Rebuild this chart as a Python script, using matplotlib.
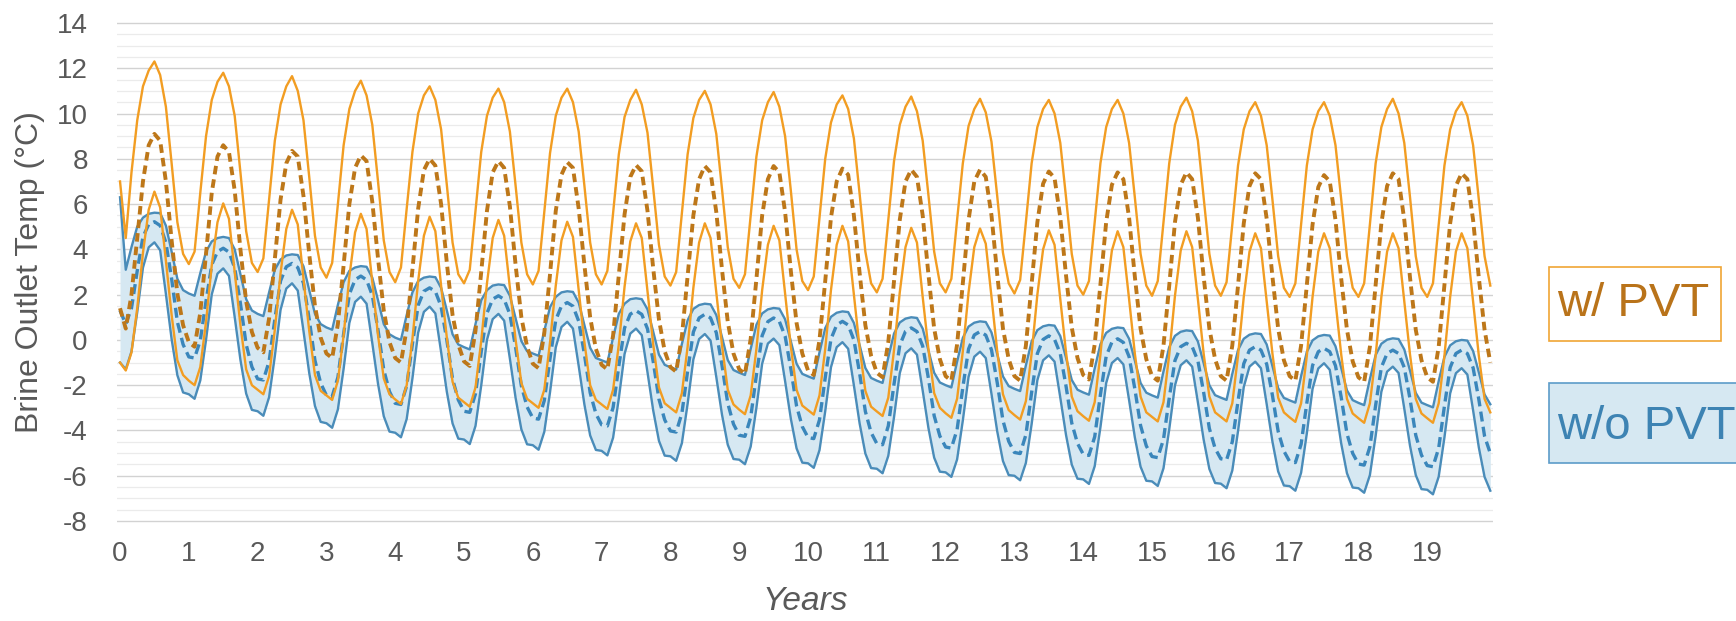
import numpy as np
import matplotlib
matplotlib.use("Agg")
import matplotlib.pyplot as plt
from matplotlib.ticker import MultipleLocator
from matplotlib.patches import Rectangle

plt.rcParams['font.family'] = ['Liberation Sans', 'DejaVu Sans']
plt.rcParams['axes.unicode_minus'] = False

# ---------------- data (monthly values, one row per year) ----------------
year_labels = [str(i) for i in range(20)]

w_pvt_upper = [
    [7.0, 4.5, 7.4, 9.7, 11.2, 11.9, 12.3, 11.7, 10.3, 7.8, 5.2, 3.8],
    [3.35, 3.9, 6.5, 9.0, 10.6, 11.4, 11.8, 11.2, 9.9, 7.4, 4.8, 3.4],
    [3.0, 3.6, 6.2, 8.8, 10.4, 11.2, 11.65, 11.0, 9.7, 7.2, 4.6, 3.2],
    [2.75, 3.4, 6.0, 8.6, 10.2, 11.0, 11.45, 10.8, 9.5, 7.0, 4.4, 3.0],
    [2.55, 3.2, 5.8, 8.3, 10.0, 10.8, 11.2, 10.6, 9.3, 6.85, 4.3, 2.9],
    [2.5, 3.1, 5.7, 8.3, 9.9, 10.7, 11.1, 10.5, 9.2, 6.8, 4.3, 2.9],
    [2.45, 3.05, 5.65, 8.25, 9.9, 10.7, 11.1, 10.5, 9.2, 6.8, 4.3, 2.9],
    [2.45, 3.05, 5.6, 8.2, 9.85, 10.6, 11.05, 10.4, 9.15, 6.7, 4.2, 2.8],
    [2.4, 3.0, 5.6, 8.2, 9.8, 10.6, 11.0, 10.4, 9.1, 6.65, 4.1, 2.7],
    [2.3, 2.9, 5.5, 8.1, 9.7, 10.5, 10.95, 10.3, 9.0, 6.6, 4.0, 2.6],
    [2.2, 2.8, 5.4, 8.0, 9.6, 10.4, 10.8, 10.2, 8.9, 6.45, 3.9, 2.5],
    [2.1, 2.7, 5.3, 7.9, 9.5, 10.3, 10.75, 10.1, 8.8, 6.4, 3.9, 2.5],
    [2.1, 2.7, 5.3, 7.8, 9.45, 10.2, 10.65, 10.05, 8.75, 6.35, 3.85, 2.5],
    [2.05, 2.65, 5.2, 7.8, 9.4, 10.2, 10.6, 10.0, 8.7, 6.3, 3.8, 2.4],
    [2.0, 2.6, 5.2, 7.8, 9.4, 10.2, 10.6, 10.0, 8.7, 6.3, 3.8, 2.4],
    [1.95, 2.6, 5.2, 7.8, 9.5, 10.3, 10.7, 10.1, 8.8, 6.3, 3.8, 2.4],
    [1.95, 2.55, 5.1, 7.7, 9.3, 10.1, 10.5, 9.9, 8.6, 6.2, 3.7, 2.3],
    [1.9, 2.5, 5.1, 7.7, 9.3, 10.1, 10.5, 9.9, 8.6, 6.2, 3.7, 2.3],
    [1.9, 2.5, 5.1, 7.8, 9.4, 10.2, 10.65, 10.0, 8.7, 6.3, 3.7, 2.3],
    [1.9, 2.5, 5.1, 7.7, 9.3, 10.1, 10.5, 9.9, 8.6, 6.2, 3.7, 2.4],
]

w_pvt_mean = [
    [1.4, 0.5, 2.0, 4.5, 7.0, 8.6, 9.1, 8.8, 7.0, 4.4, 2.05, 0.65],
    [-0.1, -0.3, 1.2, 3.8, 6.5, 8.1, 8.6, 8.3, 6.6, 4.0, 1.7, 0.35],
    [-0.35, -0.55, 0.95, 3.55, 6.2, 7.8, 8.35, 8.1, 6.35, 3.8, 1.5, 0.1],
    [-0.6, -0.8, 0.7, 3.3, 6.0, 7.6, 8.15, 7.9, 6.1, 3.6, 1.3, -0.1],
    [-0.8, -1.0, 0.5, 3.1, 5.8, 7.5, 8.0, 7.7, 6.0, 3.4, 1.1, -0.2],
    [-0.95, -1.15, 0.4, 3.0, 5.7, 7.4, 7.9, 7.6, 5.9, 3.3, 1.0, -0.3],
    [-1.05, -1.25, 0.3, 2.9, 5.7, 7.3, 7.85, 7.6, 5.8, 3.3, 1.0, -0.4],
    [-1.1, -1.3, 0.2, 2.85, 5.55, 7.2, 7.72, 7.45, 5.7, 3.15, 0.9, -0.5],
    [-1.2, -1.4, 0.15, 2.8, 5.5, 7.1, 7.68, 7.4, 5.65, 3.1, 0.8, -0.6],
    [-1.3, -1.5, 0.05, 2.7, 5.5, 7.1, 7.68, 7.4, 5.65, 3.05, 0.75, -0.6],
    [-1.35, -1.55, 0.0, 2.6, 5.4, 7.0, 7.57, 7.3, 5.5, 2.95, 0.65, -0.7],
    [-1.45, -1.65, -0.1, 2.6, 5.3, 7.0, 7.52, 7.2, 5.5, 2.9, 0.5, -0.85],
    [-1.6, -1.8, -0.2, 2.5, 5.3, 7.0, 7.52, 7.2, 5.5, 2.9, 0.5, -0.85],
    [-1.6, -1.8, -0.25, 2.45, 5.2, 6.9, 7.44, 7.15, 5.4, 2.85, 0.55, -0.8],
    [-1.55, -1.75, -0.2, 2.45, 5.2, 6.85, 7.4, 7.1, 5.4, 2.8, 0.5, -0.85],
    [-1.6, -1.8, -0.25, 2.4, 5.2, 6.85, 7.4, 7.1, 5.4, 2.8, 0.5, -0.85],
    [-1.6, -1.8, -0.25, 2.4, 5.15, 6.8, 7.36, 7.1, 5.35, 2.8, 0.5, -0.9],
    [-1.6, -1.8, -0.25, 2.4, 5.1, 6.75, 7.28, 7.0, 5.3, 2.7, 0.45, -0.95],
    [-1.65, -1.85, -0.3, 2.4, 5.15, 6.8, 7.36, 7.1, 5.3, 2.75, 0.45, -0.9],
    [-1.65, -1.85, -0.3, 2.4, 5.15, 6.8, 7.36, 7.1, 5.3, 2.75, 0.45, -1.0],
]

w_pvt_lower = [
    [-1.0, -1.35, -0.55, 1.4, 3.85, 5.75, 6.55, 5.85, 3.5, 1.1, -0.9, -1.55],
    [-1.8, -2.0, -1.2, 0.8, 3.3, 5.2, 6.03, 5.35, 3.0, 0.65, -1.3, -2.0],
    [-2.2, -2.4, -1.6, 0.45, 2.95, 4.9, 5.75, 5.1, 2.7, 0.4, -1.55, -2.25],
    [-2.45, -2.65, -1.8, 0.2, 2.8, 4.75, 5.57, 4.9, 2.55, 0.2, -1.7, -2.4],
    [-2.63, -2.83, -2.0, 0.05, 2.6, 4.6, 5.44, 4.8, 2.4, 0.1, -1.85, -2.55],
    [-2.75, -2.95, -2.1, -0.05, 2.5, 4.5, 5.3, 4.6, 2.3, 0.0, -1.9, -2.6],
    [-2.8, -3.0, -2.2, -0.1, 2.4, 4.4, 5.22, 4.55, 2.2, -0.1, -2.0, -2.65],
    [-2.85, -3.05, -2.2, -0.2, 2.35, 4.35, 5.15, 4.5, 2.15, -0.2, -2.1, -2.8],
    [-3.0, -3.2, -2.35, -0.3, 2.3, 4.3, 5.15, 4.5, 2.1, -0.25, -2.2, -2.85],
    [-3.08, -3.28, -2.45, -0.4, 2.2, 4.2, 5.04, 4.4, 2.05, -0.3, -2.2, -2.9],
    [-3.1, -3.3, -2.45, -0.4, 2.2, 4.2, 5.04, 4.35, 2.0, -0.35, -2.25, -2.95],
    [-3.16, -3.36, -2.55, -0.45, 2.1, 4.1, 4.95, 4.3, 1.9, -0.4, -2.35, -3.0],
    [-3.24, -3.44, -2.6, -0.5, 2.1, 4.1, 4.92, 4.25, 1.9, -0.5, -2.4, -3.1],
    [-3.32, -3.52, -2.7, -0.6, 2.0, 4.0, 4.84, 4.2, 1.8, -0.55, -2.5, -3.15],
    [-3.37, -3.57, -2.75, -0.65, 1.95, 3.95, 4.8, 4.1, 1.8, -0.6, -2.5, -3.2],
    [-3.4, -3.6, -2.75, -0.65, 1.95, 3.95, 4.8, 4.1, 1.8, -0.6, -2.5, -3.2],
    [-3.4, -3.6, -2.8, -0.7, 1.9, 3.9, 4.71, 4.05, 1.7, -0.6, -2.55, -3.2],
    [-3.42, -3.62, -2.8, -0.7, 1.9, 3.9, 4.71, 4.05, 1.7, -0.65, -2.6, -3.25],
    [-3.46, -3.66, -2.8, -0.7, 1.9, 3.9, 4.71, 4.05, 1.7, -0.65, -2.6, -3.25],
    [-3.46, -3.66, -2.8, -0.7, 1.9, 3.9, 4.71, 4.05, 1.7, -0.7, -2.6, -3.2],
]

wo_pvt_upper = [
    [6.3, 3.1, 4.1, 5.0, 5.4, 5.57, 5.62, 5.6, 5.05, 3.9, 2.7, 2.2],
    [2.05, 1.95, 2.95, 3.9, 4.35, 4.5, 4.55, 4.5, 4.0, 2.9, 1.8, 1.3],
    [1.15, 1.05, 2.1, 3.1, 3.55, 3.73, 3.78, 3.75, 3.25, 2.2, 1.15, 0.7],
    [0.55, 0.45, 1.55, 2.55, 3.05, 3.2, 3.26, 3.23, 2.75, 1.75, 0.7, 0.25],
    [0.1, 0.0, 1.1, 2.1, 2.6, 2.75, 2.8, 2.77, 2.3, 1.3, 0.25, -0.2],
    [-0.32, -0.42, 0.7, 1.75, 2.2, 2.4, 2.45, 2.42, 1.95, 0.95, -0.05, -0.5],
    [-0.6, -0.7, 0.4, 1.45, 1.9, 2.1, 2.15, 2.12, 1.65, 0.65, -0.35, -0.8],
    [-0.9, -1.0, 0.1, 1.15, 1.6, 1.8, 1.84, 1.8, 1.35, 0.36, -0.65, -1.1],
    [-1.21, -1.31, -0.18, 0.87, 1.37, 1.54, 1.6, 1.57, 1.1, 0.12, -0.89, -1.33],
    [-1.45, -1.55, -0.4, 0.67, 1.17, 1.35, 1.41, 1.38, 0.91, -0.06, -1.05, -1.5],
    [-1.61, -1.71, -0.55, 0.52, 1.02, 1.2, 1.26, 1.23, 0.75, -0.23, -1.24, -1.68],
    [-1.8, -1.9, -0.77, 0.28, 0.77, 0.94, 1.0, 0.97, 0.5, -0.46, -1.45, -1.88],
    [-2.0, -2.1, -0.96, 0.09, 0.59, 0.76, 0.82, 0.79, 0.33, -0.63, -1.61, -2.04],
    [-2.16, -2.26, -1.12, -0.07, 0.43, 0.6, 0.66, 0.63, 0.17, -0.79, -1.77, -2.2],
    [-2.32, -2.42, -1.26, -0.19, 0.31, 0.49, 0.55, 0.52, 0.05, -0.91, -1.9, -2.33],
    [-2.45, -2.55, -1.39, -0.32, 0.18, 0.36, 0.42, 0.39, -0.07, -1.02, -2.0, -2.44],
    [-2.55, -2.65, -1.5, -0.45, 0.05, 0.23, 0.29, 0.26, -0.2, -1.15, -2.13, -2.56],
    [-2.67, -2.77, -1.6, -0.53, -0.02, 0.16, 0.22, 0.19, -0.28, -1.24, -2.23, -2.66],
    [-2.78, -2.88, -1.73, -0.67, -0.17, 0.01, 0.07, 0.04, -0.42, -1.36, -2.34, -2.77],
    [-2.88, -2.98, -1.82, -0.75, -0.24, -0.06, 0.0, -0.03, -0.49, -1.43, -2.41, -2.84],
]

wo_pvt_mean = [
    [1.3, 0.7, 1.4, 3.05, 4.55, 5.1, 5.22, 5.05, 4.3, 2.7, 0.8, -0.2],
    [-0.75, -0.8, -0.02, 1.72, 3.32, 3.9, 4.05, 3.88, 3.18, 1.61, -0.2, -1.19],
    [-1.72, -1.77, -0.95, 0.91, 2.61, 3.23, 3.38, 3.2, 2.5, 0.91, -0.91, -1.91],
    [-2.45, -2.5, -1.65, 0.27, 2.02, 2.66, 2.82, 2.65, 1.97, 0.44, -1.32, -2.28],
    [-2.8, -2.85, -2.03, -0.17, 1.53, 2.15, 2.3, 2.14, 1.48, -0.01, -1.72, -2.65],
    [-3.15, -3.2, -2.38, -0.52, 1.18, 1.8, 1.95, 1.79, 1.13, -0.34, -2.03, -2.96],
    [-3.45, -3.5, -2.68, -0.82, 0.88, 1.5, 1.65, 1.49, 0.83, -0.64, -2.33, -3.26],
    [-3.75, -3.8, -2.99, -1.15, 0.53, 1.14, 1.29, 1.13, 0.49, -0.96, -2.62, -3.53],
    [-4.02, -4.07, -3.24, -1.37, 0.35, 0.97, 1.13, 0.97, 0.32, -1.13, -2.8, -3.72],
    [-4.21, -4.26, -3.42, -1.54, 0.19, 0.81, 0.97, 0.81, 0.17, -1.27, -2.92, -3.83],
    [-4.31, -4.36, -3.53, -1.67, 0.04, 0.66, 0.82, 0.66, 0.0, -1.47, -3.16, -4.09],
    [-4.58, -4.63, -3.8, -1.95, -0.24, 0.38, 0.53, 0.37, -0.27, -1.7, -3.35, -4.25],
    [-4.73, -4.78, -3.96, -2.1, -0.4, 0.22, 0.37, 0.21, -0.44, -1.89, -3.56, -4.48],
    [-4.97, -5.02, -4.19, -2.32, -0.6, 0.02, 0.18, 0.02, -0.61, -2.04, -3.67, -4.57],
    [-5.05, -5.1, -4.28, -2.42, -0.72, -0.1, 0.05, -0.11, -0.74, -2.16, -3.78, -4.68],
    [-5.15, -5.2, -4.39, -2.57, -0.91, -0.3, -0.15, -0.3, -0.92, -2.31, -3.91, -4.79],
    [-5.25, -5.3, -4.5, -2.7, -1.05, -0.45, -0.3, -0.45, -1.07, -2.45, -4.04, -4.91],
    [-5.37, -5.42, -4.61, -2.79, -1.13, -0.52, -0.37, -0.52, -1.14, -2.54, -4.14, -5.01],
    [-5.48, -5.53, -4.72, -2.89, -1.21, -0.6, -0.45, -0.6, -1.22, -2.61, -4.21, -5.09],
    [-5.55, -5.6, -4.78, -2.92, -1.22, -0.6, -0.45, -0.6, -1.23, -2.63, -4.25, -5.01],
]

wo_pvt_lower = [
    [-1.0, -1.3, -0.51, 1.22, 3.19, 4.09, 4.31, 3.96, 2.03, 0.03, -1.56, -2.32],
    [-2.4, -2.6, -1.79, 0.0, 2.01, 2.93, 3.16, 2.83, 1.01, -0.88, -2.37, -3.09],
    [-3.15, -3.35, -2.53, -0.72, 1.33, 2.27, 2.5, 2.18, 0.39, -1.46, -2.92, -3.62],
    [-3.68, -3.88, -3.07, -1.27, 0.75, 1.68, 1.91, 1.6, -0.14, -1.94, -3.37, -4.05],
    [-4.1, -4.3, -3.49, -1.7, 0.32, 1.24, 1.47, 1.17, -0.53, -2.29, -3.69, -4.36],
    [-4.4, -4.6, -3.8, -2.01, 0.0, 0.92, 1.15, 0.85, -0.83, -2.57, -3.95, -4.61],
    [-4.65, -4.85, -4.06, -2.31, -0.33, 0.57, 0.8, 0.5, -1.15, -2.86, -4.22, -4.86],
    [-4.9, -5.1, -4.32, -2.58, -0.62, 0.28, 0.5, 0.21, -1.43, -3.12, -4.46, -5.11],
    [-5.14, -5.34, -4.56, -2.82, -0.86, 0.04, 0.26, -0.03, -1.64, -3.31, -4.63, -5.26],
    [-5.29, -5.49, -4.71, -2.99, -1.05, -0.16, 0.06, -0.23, -1.82, -3.48, -4.79, -5.42],
    [-5.45, -5.65, -4.87, -3.15, -1.21, -0.32, -0.1, -0.39, -2.01, -3.69, -5.02, -5.66],
    [-5.69, -5.89, -5.12, -3.41, -1.47, -0.59, -0.37, -0.65, -2.24, -3.89, -5.2, -5.82],
    [-5.85, -6.05, -5.28, -3.56, -1.63, -0.74, -0.52, -0.8, -2.39, -4.04, -5.35, -5.97],
    [-6.0, -6.2, -5.43, -3.72, -1.78, -0.9, -0.68, -0.96, -2.55, -4.2, -5.51, -6.13],
    [-6.16, -6.36, -5.58, -3.86, -1.91, -1.02, -0.8, -1.08, -2.66, -4.3, -5.6, -6.22],
    [-6.25, -6.45, -5.67, -3.95, -2.01, -1.12, -0.9, -1.18, -2.76, -4.4, -5.7, -6.32],
    [-6.35, -6.55, -5.77, -4.03, -2.08, -1.18, -0.96, -1.25, -2.84, -4.49, -5.81, -6.43],
    [-6.46, -6.66, -5.87, -4.13, -2.16, -1.26, -1.03, -1.32, -2.92, -4.58, -5.89, -6.52],
    [-6.55, -6.75, -5.97, -4.24, -2.29, -1.4, -1.18, -1.46, -3.04, -4.68, -5.97, -6.59],
    [-6.62, -6.82, -6.04, -4.31, -2.36, -1.47, -1.25, -1.53, -3.11, -4.75, -6.05, -6.66],
]

# ---------------- figure ----------------
W, H = 1736, 621
fig = plt.figure(figsize=(W / 100, H / 100), dpi=100)

ax_left, ax_right = 117, 1493
ax_top, ax_bottom = 20.7, 523.3
ax = fig.add_axes([ax_left / W, 1 - ax_bottom / H,
                   (ax_right - ax_left) / W, (ax_bottom - ax_top) / H])

ou = np.ravel(w_pvt_upper)
od = np.ravel(w_pvt_mean)
ol = np.ravel(w_pvt_lower)
bu = np.ravel(wo_pvt_upper)
bd = np.ravel(wo_pvt_mean)
bl = np.ravel(wo_pvt_lower)
t = np.arange(len(ou)) / 12.0

orange = '#F29D22'
brown = '#BD7719'
blue = '#4A8CB9'
blue_d = '#3A86BB'
fill_c = '#D6E8F2'

ax.fill_between(t, bl, bu, color=fill_c, lw=0, zorder=1)
ax.plot(t, bu, color=blue, lw=1.7, zorder=2, solid_joinstyle='round')
ax.plot(t, bl, color=blue, lw=1.7, zorder=2, solid_joinstyle='round')
ax.plot(t, bd, color=blue_d, lw=2.4, dashes=(3.0, 1.6), zorder=2)
ax.plot(t, ou, color=orange, lw=1.7, zorder=3, solid_joinstyle='round')
ax.plot(t, ol, color=orange, lw=1.7, zorder=3, solid_joinstyle='round')
ax.plot(t, od, color=brown, lw=2.8, dashes=(2.2, 1.3), zorder=3)

ax.set_xlim(-0.044, 19.956)
ax.set_ylim(-8.1, 14.1)
ax.set_yticks(np.arange(-8, 15, 2))
ax.yaxis.set_minor_locator(MultipleLocator(0.5))
ax.set_xticks(range(20))
ax.set_xticklabels(year_labels)

ax.grid(which='major', axis='y', color='#D2D2D2', lw=1.0, zorder=0)
ax.grid(which='minor', axis='y', color='#EBEBEB', lw=0.9, zorder=0)
ax.set_axisbelow(True)
for s in ax.spines.values():
    s.set_visible(False)
ax.tick_params(which='both', length=0)
ax.tick_params(axis='y', pad=21, labelsize=20, labelcolor='#595959')
ax.tick_params(axis='x', pad=13, labelsize=20, labelcolor='#595959')

fig.text(30 / W, 1 - 272 / H, 'Brine Outlet Temp (°C)', rotation=90,
         ha='center', va='center', fontsize=23, color='#595959')
fig.text(805 / W, 1 - 601 / H, 'Years', ha='center', va='center',
         fontsize=24, style='italic', color='#595959')

# label boxes on the right
fig.patches.append(Rectangle((1549 / W, 1 - 341 / H), (1721 - 1549) / W, 74 / H,
                             transform=fig.transFigure, fc='white',
                             ec='#F0A535', lw=1.2, zorder=1))
fig.patches.append(Rectangle((1549 / W, 1 - 463 / H), (1745 - 1549) / W, 80 / H,
                             transform=fig.transFigure, fc=fill_c,
                             ec='#5C9CC9', lw=1.2, zorder=1))
fig.text(1557 / W, 1 - 304 / H, 'w/ PVT', ha='left', va='center',
         fontsize=34, color='#B9731A', zorder=2)
fig.text(1557 / W, 1 - 427 / H, 'w/o PVT', ha='left', va='center',
         fontsize=34, color='#3D83B3', zorder=2)

fig.savefig('out.png', dpi=100)
